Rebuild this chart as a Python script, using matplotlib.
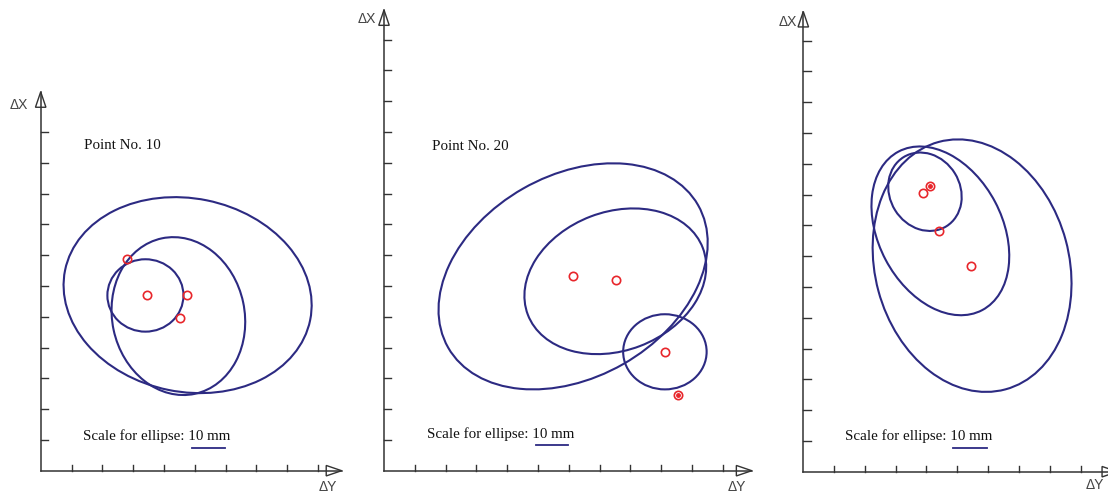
import matplotlib
matplotlib.use("Agg")
import matplotlib.pyplot as plt
from matplotlib.patches import Ellipse, Polygon

W, H = 1108, 493
S = 30.8  # pixels per axis unit

ELL_COLOR = "#2c2a82"
PT_COLOR = "#e8262b"
AX_COLOR = "#333333"

# panel frames: origin pixel, visible range (axis units)
origins = [(40.7, 470.7), (384.0, 470.7), (803.3, 471.7)]
x_ticks_n = [9, 11, 9]
y_ticks_n = [11, 14, 14]
x_tips = [9.77, 11.94, 10.2]
y_tips = [12.3, 14.96, 14.94]

titles = ["Point No. 10", "Point No. 20", None]
title_pos = [(1.41, 10.55), (1.56, 10.51), None]
scale_text_pos = [(1.38, 1.13), (1.41, 1.19), (1.34, 1.16)]
scale_line_x = [(4.91, 5.99), (4.92, 5.99), (4.87, 5.95)]
scale_line_y = [0.75, 0.82, 0.78]

dx_label_pos = [(-0.72, 11.87), (-0.55, 14.65), (-0.5, 14.6)]
dy_label_pos = [(9.33, -0.52), (11.44, -0.54), (9.48, -0.44)]

# error ellipses (center u, center v, width, height, angle deg)
ell_u = [[4.77, 4.47, 3.40], [6.14, 7.51, 9.12], [5.48, 4.45, 3.95]]
ell_v = [[5.70, 5.02, 5.69], [6.31, 6.15, 3.86], [6.69, 7.82, 9.09]]
ell_w = [[8.12, 4.30, 2.47], [9.34, 6.08, 2.71], [6.30, 4.02, 2.28]]
ell_h = [[6.28, 5.16, 2.35], [6.56, 4.50, 2.44], [8.32, 5.82, 2.64]]
ell_ang = [[-11.5, 12.0, 0.0], [29.7, 20.9, 0.0], [15.1, 27.8, 31.7]]

# point positions
pt_u = [[2.79, 3.44, 4.74, 4.52], [6.15, 7.52, 9.12, 9.56], [3.90, 4.12, 4.42, 5.45]]
pt_v = [[6.88, 5.70, 5.70, 4.97], [6.31, 6.20, 3.86, 2.45], [9.06, 9.28, 7.82, 6.69]]
pt_double = [[False, False, False, False], [False, False, False, True],
             [False, True, False, False]]

XMIN, XMAX, YMIN, YMAX = -1.4, 12.6, -1.0, 15.5

fig = plt.figure(figsize=(W / 100, H / 100), dpi=100)

for i in range(3):
    x0, y0 = origins[i]
    left = (x0 + XMIN * S) / W
    bottom = (H - y0 + YMIN * S) / H
    ax = fig.add_axes([left, bottom, (XMAX - XMIN) * S / W, (YMAX - YMIN) * S / H])
    ax.set_xlim(XMIN, XMAX)
    ax.set_ylim(YMIN, YMAX)
    ax.set_axis_off()
    ax.patch.set_alpha(0)

    # axes with open arrow heads
    xt, yt = x_tips[i], y_tips[i]
    ax.plot([0, xt], [0, 0], color=AX_COLOR, lw=1.1, clip_on=False)
    ax.plot([0, 0], [0, yt], color=AX_COLOR, lw=1.1, clip_on=False)
    ax.add_patch(Polygon([[xt, 0], [xt - 0.5, 0.17], [xt - 0.5, -0.17]], closed=True,
                         fill=False, ec=AX_COLOR, lw=1.0, clip_on=False))
    ax.add_patch(Polygon([[0, yt], [-0.17, yt - 0.5], [0.17, yt - 0.5]], closed=True,
                         fill=False, ec=AX_COLOR, lw=1.0, clip_on=False))
    for k in range(1, x_ticks_n[i] + 1):
        ax.plot([k, k], [0, 0.2], color=AX_COLOR, lw=1.0, clip_on=False)
    for k in range(1, y_ticks_n[i] + 1):
        ax.plot([0, 0.24], [k, k], color=AX_COLOR, lw=1.0, clip_on=False)

    ax.text(*dx_label_pos[i], "ΔX", fontsize=10, family="Liberation Sans",
            color="#444444", ha="center", va="center", clip_on=False)
    ax.text(*dy_label_pos[i], "ΔY", fontsize=10, family="Liberation Sans",
            color="#444444", ha="center", va="center", clip_on=False)

    if titles[i]:
        ax.text(*title_pos[i], titles[i], fontsize=10.8, family="Liberation Serif",
                color="#111111", ha="left", va="center")
    ax.text(*scale_text_pos[i], "Scale for ellipse: 10 mm", fontsize=10.8,
            family="Liberation Serif", color="#111111", ha="left", va="center")
    ax.plot(scale_line_x[i], [scale_line_y[i]] * 2, color=ELL_COLOR, lw=1.3)

    for cu, cv, w, h, a in zip(ell_u[i], ell_v[i], ell_w[i], ell_h[i], ell_ang[i]):
        ax.add_patch(Ellipse((cu, cv), w, h, angle=a, fill=False,
                             ec=ELL_COLOR, lw=1.5))

    ax.plot(pt_u[i], pt_v[i], "o", ms=6, mfc="none", mec=PT_COLOR, mew=1.2)
    du = [u for u, d in zip(pt_u[i], pt_double[i]) if d]
    dv = [v for v, d in zip(pt_v[i], pt_double[i]) if d]
    ax.plot(du, dv, "o", ms=2.5, mfc=PT_COLOR, mec=PT_COLOR)

fig.savefig("out.png", dpi=100)
